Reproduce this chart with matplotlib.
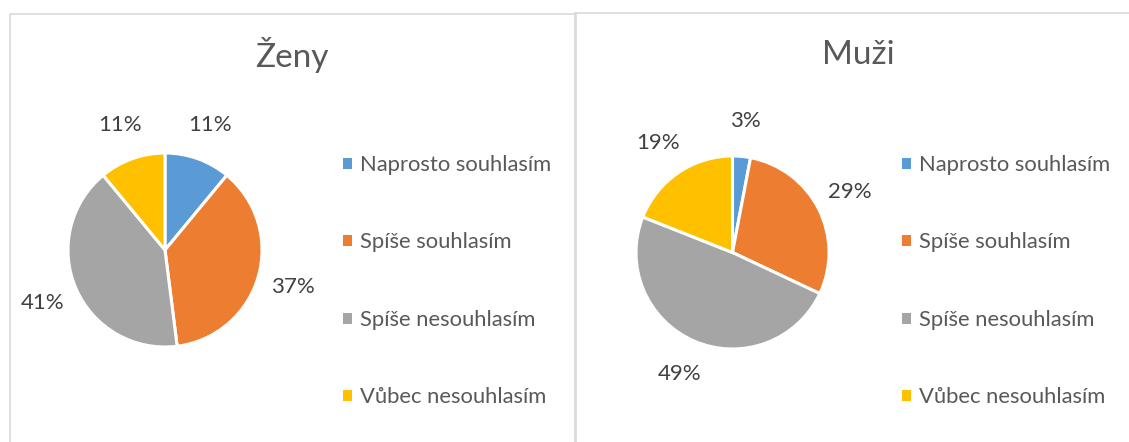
import matplotlib
matplotlib.use('Agg')
from matplotlib import pyplot as plt
from matplotlib.patches import Patch, Rectangle

plt.rcParams['font.family'] = ['Lato', 'DejaVu Sans']

# Data -----------------------------------------------------------------------
categories = ['Naprosto souhlasím', 'Spíše souhlasím', 'Spíše nesouhlasím', 'Vůbec nesouhlasím']
zeny_pct = [11, 37, 41, 11]
muzi_pct = [3, 29, 49, 19]
titles = ['Ženy', 'Muži']

colors = ['#5B9BD5', '#ED7D31', '#A5A5A5', '#FFC000']

W, H = 1129, 442
fig = plt.figure(figsize=(W / 100, H / 100), dpi=100)


def fx(px):
    return px / W


def fy(py):
    # py measured from the top of the image
    return 1 - py / H


# Panel borders
for x0, x1, y0 in [(9.5, 575.5, 13.5), (574.5, 1140, 12.5)]:
    fig.add_artist(Rectangle(
        (fx(x0), fy(460)), fx(x1 - x0), (460 - y0) / H,
        transform=fig.transFigure, facecolor='none',
        edgecolor='#D9D9D9', linewidth=1.2
    ))


def draw_panel(values, title, cx, cy, r, title_x, legend_x):
    lim = 1.45
    half = lim * r
    ax = fig.add_axes([fx(cx - half), fy(cy + half), fx(2 * half), 2 * half / H])
    ax.pie(
        values,
        colors=colors,
        startangle=90,
        counterclock=False,
        autopct='%.0f%%',
        pctdistance=1.37,
        wedgeprops=dict(edgecolor='white', linewidth=2.2),
        textprops=dict(fontsize=16, color='#404040')
    )
    ax.set_xlim(-lim, lim)
    ax.set_ylim(-lim, lim)
    ax.set_aspect('equal')
    ax.axis('off')

    fig.text(fx(title_x), fy(55), title, ha='center', va='center',
             fontsize=24, color='#595959')

    handles = [Patch(facecolor=c, edgecolor='none') for c in colors]
    fig.legend(
        handles, categories,
        loc='upper left', bbox_to_anchor=(fx(legend_x), fy(155)),
        frameon=False, fontsize=15.8, labelcolor='#595959',
        handlelength=0.41, handleheight=0.41, handletextpad=0.36,
        labelspacing=2.62, borderpad=0, borderaxespad=0
    )


draw_panel(zeny_pct, titles[0], 165, 250, 97, 292, 343)
draw_panel(muzi_pct, titles[1], 732.5, 252.5, 96.5, 858.5, 902)

plt.savefig('out.png', dpi=100)
